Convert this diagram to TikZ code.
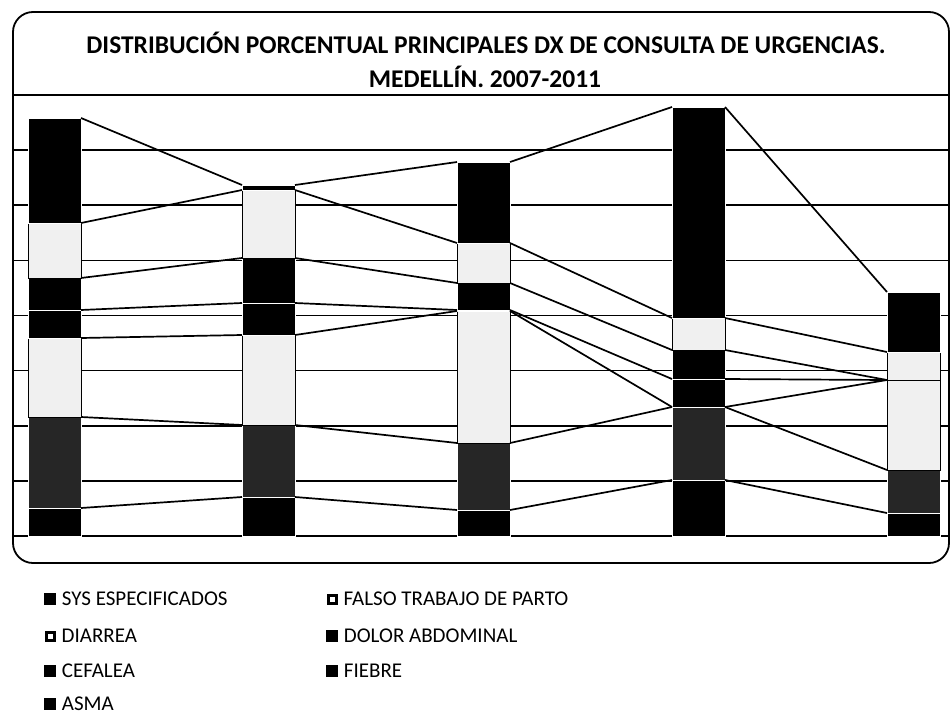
\documentclass[tikz,border=0pt]{standalone}
\usepackage{fontspec}
\setmainfont{Carlito}
\usepackage{tikz}
\usetikzlibrary{positioning}

\tikzset{
  grid line/.style={line width=1.6pt},
  series line/.style={draw=black, line width=1.7pt},
  blackseg/.style={fill=black, draw=white, line width=0.8pt},
  darkseg/.style={fill=black!85, draw=white, line width=0.8pt},
  lightseg/.style={fill=black!6, draw=black, line width=1pt},
  seg1/.style={blackseg}, seg2/.style={darkseg}, seg3/.style={lightseg},
  seg4/.style={blackseg}, seg5/.style={blackseg}, seg6/.style={lightseg},
  seg7/.style={blackseg},
  legkey/.style={draw=black, fill=black, minimum size=11pt, inner sep=0pt},
  hollowkey/.style={draw=black, fill=white, line width=3pt, minimum size=8pt, inner sep=0pt},
  legtext/.style={inner sep=0pt, font=\fontsize{21}{25}\selectfont},
  titletext/.style={inner sep=0pt, anchor=base, font=\bfseries\fontsize{25.5}{30}\selectfont}
}

% one stacked column: #1 column number, #2 left x, #3 series tops from bottom to top
\newcommand{\stackbar}[3]{%
  \foreach \y [count=\s, remember=\y as \p (initially 536)] in {#3} {
    \path[seg\s] (#2,\p) rectangle (#2+53,\y);
    \coordinate (c#1s\s l) at (#2,\y);
    \coordinate (c#1s\s r) at (#2+53,\y);
  }}

\begin{document}
\begin{tikzpicture}[x=1pt, y=-1pt]
	\fill[white] (0,0) rectangle (950,718);
	\useasboundingbox (0,0) rectangle (950,718);
%	title
	\node[titletext] (title1) at (486,53) {DISTRIBUCIÓN PORCENTUAL PRINCIPALES DX DE CONSULTA DE URGENCIAS.};
	\node[titletext] (title2) at (485,87) {MEDELLÍN. 2007-2011};
%	grid
	\foreach \g in {0,...,8}
		\draw[grid line] (13,95+55.125*\g) -- (949,95+55.125*\g);
%	columns
	\stackbar{1}{28}{508,417,338,310,278,223,118}
	\stackbar{2}{242}{497,425,335,303,258,190,185}
	\stackbar{3}{457}{510,443,311,310,283,243,162}
	\stackbar{4}{672}{480,407,407,379,350,318,107}
	\stackbar{5}{887}{513,470,380,380,380,352,292}
	\foreach \s in {1,...,7}{
		\foreach \b in {1,...,4}{
			\pgfmathtruncatemacro{\nb}{\b+1}
			\draw[series line] (c\b s\s r) -- (c\nb s\s l);
		}
	}
	\draw[line width=1.8pt, rounded corners=20pt] (13,12) rectangle (949,563);
%	legend
	\node[legkey] (kSys) at (50,599) {};
	\node[legtext, right=6pt of kSys] (tSys) {SYS ESPECIFICADOS};
	\node[hollowkey] (kDia) at (50,636) {};
	\node[legtext, right=6pt of kDia] (tDia) {DIARREA};
	\node[legkey] (kCef) at (50,671) {};
	\node[legtext, right=6pt of kCef] (tCef) {CEFALEA};
	\node[legkey] (kAsm) at (50,704) {};
	\node[legtext, right=6pt of kAsm] (tAsm) {ASMA};
	\node[hollowkey] (kFal) at (332,599) {};
	\node[legtext, right=6pt of kFal] (tFal) {FALSO TRABAJO DE PARTO};
	\node[legkey] (kDol) at (332,636) {};
	\node[legtext, right=6pt of kDol] (tDol) {DOLOR ABDOMINAL};
	\node[legkey] (kFie) at (332,671) {};
	\node[legtext, right=6pt of kFie] (tFie) {FIEBRE};
\end{tikzpicture}
\end{document}
